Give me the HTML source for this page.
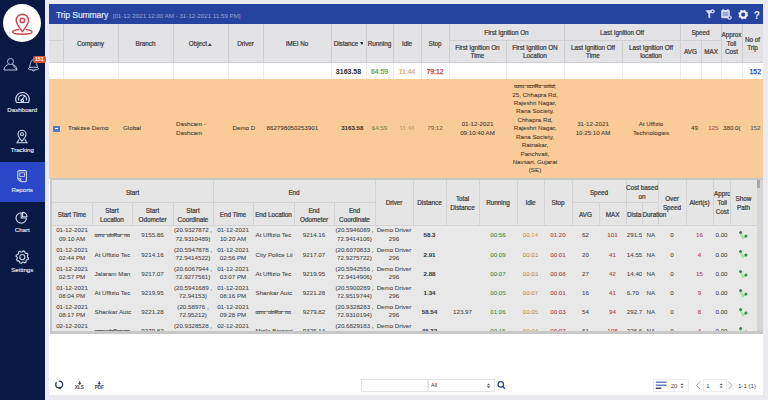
<!DOCTYPE html><html><head><meta charset="utf-8"><style>
html,body{margin:0;padding:0}
body{width:768px;height:400px;overflow:hidden;position:relative;background:#ecebf0;font-family:"Liberation Sans",sans-serif}
div{position:absolute;box-sizing:border-box}
.c{display:flex;align-items:center;justify-content:center;text-align:center;white-space:nowrap;overflow:hidden}
.hd{font-size:6.4px;font-weight:normal;color:#3e3e3e;-webkit-text-stroke:0.22px #3e3e3e;line-height:8.6px;letter-spacing:-0.05px;padding-top:1.7px}
.nh{font-size:6.4px;font-weight:normal;color:#3e3e3e;-webkit-text-stroke:0.22px #3e3e3e;line-height:9px;letter-spacing:-0.05px;padding-top:2.2px}
.d{font-size:6.2px;color:#4a4a4a;-webkit-text-stroke:0.08px #4a4a4a;line-height:8.2px}
.o{font-size:6.2px;color:#4a3a2c;-webkit-text-stroke:0.08px #4a3a2c;line-height:8.4px}
.sb{font-size:6.1px;color:#e2e6f3;-webkit-text-stroke:0.15px #e2e6f3}
.hi{font-size:5px;letter-spacing:0px;word-spacing:1.3px;font-weight:normal;-webkit-text-stroke:0.2px currentColor;color:#5a5a5a;background:linear-gradient(currentColor,currentColor) no-repeat 0 1.9px/100% 0.6px}
svg{position:absolute}
</style></head><body>
<div style="left:0px;top:0px;width:44.5px;height:400px;background:#0a1944"></div>
<div style="left:0px;top:162px;width:44.5px;height:40px;background:#2947c6"></div>
<div style="left:44.5px;top:0px;width:4.5px;height:400px;background:#e9ecf8"></div>
<div style="left:3px;top:4px;width:38px;height:38px;background:#fff;border-radius:50%"></div>
<svg style="left:0;top:0" width="44" height="80" viewBox="0 0 44 80">
<g fill="none" stroke="#cc4655" stroke-width="1.5">
<path d="M22.4 31.6 C18.6 26.6 16.2 23.2 16.2 20.4 A6.2 6.2 0 0 1 28.6 20.4 C28.6 23.2 26.2 26.6 22.4 31.6 Z"/>
<circle cx="22.4" cy="20.4" r="2.2"/>
<path d="M19 29.6 C15 30 12.6 31 12.6 32.1 C12.6 33.5 17 34.3 22.3 34.3 C27.6 34.3 32 33.5 32 32.1 C32 31 29.6 30 25.8 29.6"/>
</g>
<g fill="none" stroke="#b8bfdc" stroke-width="1">
<circle cx="10.5" cy="61.5" r="3"/>
<path d="M4 70 C4 66.5 6.5 65 8.5 64.5 M12.5 64.5 C14.5 65 17 66.5 17 70 Z"/>
<path d="M4 70 L17 70"/>
<path d="M29.3 68 C30.3 66 29.8 60.8 33.5 59.3 C37.2 60.8 36.7 66 37.7 68"/><ellipse cx="33.5" cy="68.6" rx="5.2" ry="1.4"/><path d="M32 70.3 Q33.5 71.6 35 70.3"/>
</g>
</svg>
<div style="left:33px;top:55.5px;width:12.5px;height:7.5px;background:#e0503a;border-radius:2px"></div>
<div class="c" style="left:33px;top:55.5px;width:12.5px;height:7.5px;font-size:5px;font-weight:bold;color:#fff"><span>151</span></div>
<div class="c sb" style="left:0px;top:105.5px;width:44.5px;height:8px;"><span>Dashboard</span></div>
<div class="c sb" style="left:0px;top:145.3px;width:44.5px;height:8px;"><span>Tracking</span></div>
<div class="c sb" style="left:0px;top:185.5px;width:44.5px;height:8px;"><span>Reports</span></div>
<div class="c sb" style="left:0px;top:225.3px;width:44.5px;height:8px;"><span>Chart</span></div>
<div class="c sb" style="left:0px;top:265.1px;width:44.5px;height:8px;"><span>Settings</span></div>
<svg style="left:0;top:80px" width="44" height="200" viewBox="0 80 44 200">
<g fill="none" stroke="#d0d6ec" stroke-width="1.1">
<path d="M16.5 102.5 A6.8 6.8 0 1 1 28.5 102.5 Z"/>
<path d="M18.8 100.5 A4 4 0 1 1 26.2 100.5"/>
<path d="M21 101 L25 95.5"/>
<circle cx="22.3" cy="100.5" r="1.3"/>
<path d="M22 141.2 C19.8 138.5 18 136.6 18 134.2 A4 4 0 0 1 26 134.2 C26 136.6 24.2 138.5 22 141.2 Z"/>
<circle cx="22" cy="134.2" r="1.5"/>
<path d="M19.3 139.2 L17 142.8 L27 142.8 L24.7 139.2"/>
<path d="M17.8 171.8 a1.2 1.2 0 0 1 1.2 -1.2 h6.2 a1.2 1.2 0 0 1 1.2 1.2 v8.8 a1.2 1.2 0 0 1 -1.2 1.2 h-4.4 l-3 -3 Z"/>
<path d="M17.8 178.8 h3 v3"/>
<rect x="19.8" y="172.8" width="4.6" height="3.6" stroke-width="0.8"/>
<path d="M21.2 212.8 A5.2 5.2 0 1 0 26.4 218 L21.2 218 Z"/>
<path d="M22.6 212.4 A4.4 4.4 0 0 1 27 216.8 L22.6 216.8 Z"/>
<path d="M22.30 251.90 L23.19 250.86 L24.71 251.28 L24.95 252.62 L25.98 253.42 L27.34 253.32 L28.12 254.69 L27.34 255.81 L27.50 257.10 L28.54 257.99 L28.12 259.51 L26.78 259.75 L25.98 260.78 L26.08 262.14 L24.71 262.92 L23.59 262.14 L22.30 262.30 L21.41 263.34 L19.89 262.92 L19.65 261.58 L18.62 260.78 L17.26 260.88 L16.48 259.51 L17.26 258.39 L17.10 257.10 L16.06 256.21 L16.48 254.69 L17.82 254.45 L18.62 253.42 L18.52 252.06 L19.89 251.28 L21.01 252.06 Z" stroke-linejoin="round"/>
<circle cx="22.3" cy="257.1" r="2.6"/>
</g></svg>
<div style="left:49px;top:5px;width:714px;height:390px;background:#fff"></div>
<div style="left:49px;top:4px;width:714px;height:20px;background:#2743a0"></div>
<div style="left:56px;top:5px;height:19px;display:flex;align-items:center;white-space:nowrap;padding-top:0.5px"><span style="font-size:8.6px;letter-spacing:-0.12px;color:#dfe5f7;-webkit-text-stroke:0.2px #dfe5f7">Trip Summary</span><span style="font-size:6.2px;color:#95a3d3;margin-left:4.5px;position:relative;top:0.8px">[01-12-2021 12:00 AM - 31-12-2021 11:59 PM]</span></div>
<svg style="left:700px;top:5px" width="64" height="19" viewBox="700 5 64 19">
<g fill="#d5ddf3">
<path d="M705.3 10.3 L712.5 10.3 L710.2 13.8 L710.2 18.6 L708.3 17.6 L708.3 13.8 Z"/>
<circle cx="712.6" cy="11.3" r="2.1"/>
<rect x="721.2" y="10" width="8.6" height="8.3" rx="1"/>
<rect x="722.5" y="8.9" width="1.2" height="2" /><rect x="727.3" y="8.9" width="1.2" height="2"/>
<circle cx="729.6" cy="17.6" r="2.2"/>
</g>
<circle cx="712.6" cy="11.3" r="0.9" fill="#2743a0"/>
<path d="M722.8 13 h5.5 M722.8 15 h5.5" stroke="#2743a0" stroke-width="0.7"/>
<circle cx="729.6" cy="17.6" r="1" fill="#2743a0"/>
<circle cx="743.2" cy="14.6" r="3.1" fill="none" stroke="#eef1fb" stroke-width="2"/>
<circle cx="743.2" cy="14.6" r="4.2" fill="none" stroke="#eef1fb" stroke-width="1.4" stroke-dasharray="1.65 1.65"/>
<text x="756.7" y="18.6" font-size="10" font-weight="bold" fill="#eef1fb" text-anchor="middle" font-family="Liberation Sans">?</text>
</svg>
<div style="left:49px;top:24px;width:714px;height:38.5px;background:#e3e3e5"></div>
<div style="left:63px;top:24px;width:1px;height:39px;background:#cfcfd2"></div>
<div style="left:63px;top:63px;width:1px;height:16px;background:#ececee"></div>
<div style="left:118px;top:24px;width:1px;height:39px;background:#cfcfd2"></div>
<div style="left:118px;top:63px;width:1px;height:16px;background:#ececee"></div>
<div style="left:173px;top:24px;width:1px;height:39px;background:#cfcfd2"></div>
<div style="left:173px;top:63px;width:1px;height:16px;background:#ececee"></div>
<div style="left:228px;top:24px;width:1px;height:39px;background:#cfcfd2"></div>
<div style="left:228px;top:63px;width:1px;height:16px;background:#ececee"></div>
<div style="left:263px;top:24px;width:1px;height:39px;background:#cfcfd2"></div>
<div style="left:263px;top:63px;width:1px;height:16px;background:#ececee"></div>
<div style="left:331px;top:24px;width:1px;height:39px;background:#cfcfd2"></div>
<div style="left:331px;top:63px;width:1px;height:16px;background:#ececee"></div>
<div style="left:366px;top:24px;width:1px;height:39px;background:#cfcfd2"></div>
<div style="left:366px;top:63px;width:1px;height:16px;background:#ececee"></div>
<div style="left:393px;top:24px;width:1px;height:39px;background:#cfcfd2"></div>
<div style="left:393px;top:63px;width:1px;height:16px;background:#ececee"></div>
<div style="left:421px;top:24px;width:1px;height:39px;background:#cfcfd2"></div>
<div style="left:421px;top:63px;width:1px;height:16px;background:#ececee"></div>
<div style="left:449px;top:24px;width:1px;height:39px;background:#cfcfd2"></div>
<div style="left:449px;top:63px;width:1px;height:16px;background:#ececee"></div>
<div style="left:506px;top:40px;width:1px;height:23px;background:#cfcfd2"></div>
<div style="left:506px;top:63px;width:1px;height:16px;background:#ececee"></div>
<div style="left:564px;top:24px;width:1px;height:39px;background:#cfcfd2"></div>
<div style="left:564px;top:63px;width:1px;height:16px;background:#ececee"></div>
<div style="left:622px;top:40px;width:1px;height:23px;background:#cfcfd2"></div>
<div style="left:622px;top:63px;width:1px;height:16px;background:#ececee"></div>
<div style="left:680px;top:24px;width:1px;height:39px;background:#cfcfd2"></div>
<div style="left:680px;top:63px;width:1px;height:16px;background:#ececee"></div>
<div style="left:701px;top:40px;width:1px;height:23px;background:#cfcfd2"></div>
<div style="left:701px;top:63px;width:1px;height:16px;background:#ececee"></div>
<div style="left:721px;top:24px;width:1px;height:39px;background:#cfcfd2"></div>
<div style="left:721px;top:63px;width:1px;height:16px;background:#ececee"></div>
<div style="left:742px;top:24px;width:1px;height:39px;background:#cfcfd2"></div>
<div style="left:742px;top:63px;width:1px;height:16px;background:#ececee"></div>
<div style="left:49px;top:40px;width:14px;height:1px;background:#cfcfd2"></div>
<div style="left:449px;top:40px;width:272px;height:1px;background:#cfcfd2"></div>
<div style="left:49px;top:62px;width:714px;height:1px;background:#cfcfd2"></div>
<div class="c hd" style="left:63px;top:24px;width:55px;height:38.5px;"><span>Company</span></div>
<div class="c hd" style="left:118px;top:24px;width:55px;height:38.5px;"><span>Branch</span></div>
<div class="c hd" style="left:173px;top:24px;width:55px;height:38.5px;"><span>Object<svg width='3.8' height='3' viewBox='0 0 3.8 3' style='position:relative;margin-left:1.4px;vertical-align:0px'><path d='M0 3 L1.9 0 L3.8 3 Z' fill='#444'/></svg></span></div>
<div class="c hd" style="left:228px;top:24px;width:35px;height:38.5px;"><span>Driver</span></div>
<div class="c hd" style="left:263px;top:24px;width:68px;height:38.5px;"><span>IMEI No</span></div>
<div class="c hd" style="left:331px;top:24px;width:35px;height:38.5px;"><span>Distance<svg width='3.8' height='3' viewBox='0 0 3.8 3' style='position:relative;margin-left:1.4px;vertical-align:0.8px'><path d='M0 0 L1.9 3 L3.8 0 Z' fill='#333'/></svg></span></div>
<div class="c hd" style="left:366px;top:24px;width:27px;height:38.5px;"><span>Running</span></div>
<div class="c hd" style="left:393px;top:24px;width:28px;height:38.5px;"><span>Idle</span></div>
<div class="c hd" style="left:421px;top:24px;width:28px;height:38.5px;"><span>Stop</span></div>
<div class="c hd" style="left:449px;top:40px;width:57px;height:22.5px;"><span>First Ignition On<br>Time</span></div>
<div class="c hd" style="left:506px;top:40px;width:58px;height:22.5px;"><span>First Ignition ON<br>Location</span></div>
<div class="c hd" style="left:564px;top:40px;width:58px;height:22.5px;"><span>Last Ignition Off<br>Time</span></div>
<div class="c hd" style="left:622px;top:40px;width:58px;height:22.5px;"><span>Last Ignition Off<br>location</span></div>
<div class="c hd" style="left:680px;top:40px;width:21px;height:22.5px;"><span>AVG</span></div>
<div class="c hd" style="left:701px;top:40px;width:20px;height:22.5px;"><span>MAX</span></div>
<div class="c hd" style="left:721px;top:24px;width:21px;height:38.5px;"><span>Approx<br>Toll<br>Cost</span></div>
<div class="c hd" style="left:742px;top:24px;width:21px;height:38.5px;"><span>No of<br>Trip</span></div>
<div class="c hd" style="left:449px;top:24px;width:115px;height:16px;"><span>First Ignition On</span></div>
<div class="c hd" style="left:564px;top:24px;width:116px;height:16px;"><span>Last Ignition Off</span></div>
<div class="c hd" style="left:680px;top:24px;width:41px;height:16px;"><span>Speed</span></div>
<div class="c d" style="left:331px;top:63px;width:35px;height:16px;font-weight:bold;color:#333;font-size:7px;padding-top:3px"><span>3163.58</span></div>
<div class="c d" style="left:366px;top:63px;width:27px;height:16px;color:#5a9a48;font-size:6.9px;-webkit-text-stroke:0.2px #5a9a48;padding-top:3px"><span>64:59</span></div>
<div class="c d" style="left:393px;top:63px;width:28px;height:16px;color:#d4a468;font-size:6.9px;-webkit-text-stroke:0.15px #d4a468;padding-top:3px"><span>11:44</span></div>
<div class="c d" style="left:421px;top:63px;width:28px;height:16px;color:#a8404a;font-size:6.9px;-webkit-text-stroke:0.25px #a8404a;padding-top:3px"><span>79:12</span></div>
<div class="c d" style="left:742px;top:63px;width:21px;height:16px;color:#2a49a6;font-size:6.9px;-webkit-text-stroke:0.25px #2a49a6;justify-content:flex-end;padding-right:2px;padding-top:3px"><span>152</span></div>
<div style="left:49px;top:79px;width:714px;height:99.5px;background:#f8cb99"></div>
<div style="left:53px;top:125.5px;width:6.5px;height:6.5px;background:#4a7bd0;border-radius:1px"></div>
<div style="left:54.5px;top:128.3px;width:3.5px;height:1px;background:#fff"></div>
<div class="c o" style="left:63px;top:79px;width:55px;height:99px;justify-content:flex-start;padding-left:5px"><span>Trakzee Demo</span></div>
<div class="c o" style="left:118px;top:79px;width:55px;height:99px;justify-content:flex-start;padding-left:5px"><span>Global</span></div>
<div class="c o" style="left:173px;top:79px;width:55px;height:99px;justify-content:flex-start;padding-left:3px;text-align:left"><span>Dashcam -<br>Dashcam</span></div>
<div class="c o" style="left:228px;top:79px;width:35px;height:99px;justify-content:flex-start;padding-left:4.5px"><span>Demo D</span></div>
<div class="c o" style="left:263px;top:79px;width:68px;height:99px;justify-content:flex-start;padding-left:3.5px"><span>862798050253901</span></div>
<div class="c o" style="left:331px;top:79px;width:35px;height:99px;font-weight:bold;color:#4a3626;justify-content:flex-end;padding-right:2.5px"><span>3163.58</span></div>
<div class="c o" style="left:366px;top:79px;width:27px;height:99px;color:#7f9a4a"><span>64:59</span></div>
<div class="c o" style="left:393px;top:79px;width:28px;height:99px;color:#dcae6a"><span>11:44</span></div>
<div class="c o" style="left:421px;top:79px;width:28px;height:99px;color:#b05a48"><span>79:12</span></div>
<div class="c o" style="left:449px;top:79px;width:57px;height:99px;"><span>01-12-2021<br>09:10:40 AM</span></div>
<div class="c o" style="left:506px;top:79px;width:58px;height:99px;overflow:visible"><span><span class='hi' style='color:#6a4a2c'>uzru ucnRu unlul,</span><br>25, Chhapra Rd,<br>Rajeshri Nagar,<br>Rana Society,<br>Chhapra Rd,<br>Rajeshri Nagar,<br>Rana Society,<br>Ratnakar,<br>Panchvati,<br>Navsari, Gujarat<br>(SE)</span></div>
<div class="c o" style="left:564px;top:79px;width:58px;height:99px;"><span>31-12-2021<br>10:25:10 AM</span></div>
<div class="c o" style="left:622px;top:79px;width:58px;height:99px;"><span>At Uffizio<br>Technologies</span></div>
<div class="c o" style="left:680px;top:79px;width:21px;height:99px;justify-content:flex-end;padding-right:3px"><span>49</span></div>
<div class="c o" style="left:701px;top:79px;width:20px;height:99px;color:#c8503a;justify-content:flex-end;padding-right:2.5px"><span>125</span></div>
<div class="c o" style="left:721px;top:79px;width:21px;height:99px;justify-content:flex-start;padding-left:2px"><span>380.0(</span></div>
<div class="c o" style="left:742px;top:79px;width:21px;height:99px;color:#6d6070;justify-content:flex-end;padding-right:2.5px"><span>152</span></div>
<div style="left:50px;top:178px;width:713px;height:155.6px;background:#c8c8c8"></div>
<div style="left:52px;top:180px;width:705px;height:150.8px;background:#e8e8e8"></div>
<div style="left:52px;top:180px;width:705px;height:45px;background:#e5e5e6"></div>
<div style="left:52px;top:202px;width:323px;height:1px;background:#d3d3d5"></div>
<div style="left:572px;top:202px;width:86px;height:1px;background:#d3d3d5"></div>
<div style="left:92px;top:202px;width:1px;height:23px;background:#d3d3d5"></div>
<div style="left:132px;top:202px;width:1px;height:23px;background:#d3d3d5"></div>
<div style="left:173px;top:202px;width:1px;height:23px;background:#d3d3d5"></div>
<div style="left:213px;top:180px;width:1px;height:45px;background:#d3d3d5"></div>
<div style="left:253px;top:202px;width:1px;height:23px;background:#d3d3d5"></div>
<div style="left:294px;top:202px;width:1px;height:23px;background:#d3d3d5"></div>
<div style="left:334px;top:202px;width:1px;height:23px;background:#d3d3d5"></div>
<div style="left:375px;top:180px;width:1px;height:45px;background:#d3d3d5"></div>
<div style="left:413px;top:180px;width:1px;height:45px;background:#d3d3d5"></div>
<div style="left:446px;top:180px;width:1px;height:45px;background:#d3d3d5"></div>
<div style="left:479px;top:180px;width:1px;height:45px;background:#d3d3d5"></div>
<div style="left:517px;top:180px;width:1px;height:45px;background:#d3d3d5"></div>
<div style="left:544px;top:180px;width:1px;height:45px;background:#d3d3d5"></div>
<div style="left:572px;top:180px;width:1px;height:45px;background:#d3d3d5"></div>
<div style="left:599px;top:202px;width:1px;height:23px;background:#d3d3d5"></div>
<div style="left:626px;top:180px;width:1px;height:45px;background:#d3d3d5"></div>
<div style="left:642px;top:202px;width:1px;height:23px;background:#d3d3d5"></div>
<div style="left:658px;top:180px;width:1px;height:45px;background:#d3d3d5"></div>
<div style="left:686px;top:180px;width:1px;height:45px;background:#d3d3d5"></div>
<div style="left:713px;top:180px;width:1px;height:45px;background:#d3d3d5"></div>
<div style="left:730px;top:180px;width:1px;height:45px;background:#d3d3d5"></div>
<div style="left:52px;top:224.5px;width:705px;height:1px;background:#d3d3d5"></div>
<div style="left:757px;top:180px;width:6px;height:150px;background:#d6d6d6"></div>
<div style="left:757px;top:180px;width:3px;height:8px;background:#a8a8a8"></div>
<div class="c nh" style="left:52px;top:202px;width:40px;height:23px;"><span>Start Time</span></div>
<div class="c nh" style="left:92px;top:202px;width:40px;height:23px;"><span>Start<br>Location</span></div>
<div class="c nh" style="left:132px;top:202px;width:41px;height:23px;"><span>Start<br>Odometer</span></div>
<div class="c nh" style="left:173px;top:202px;width:40px;height:23px;"><span>Start<br>Coordinate</span></div>
<div class="c nh" style="left:213px;top:202px;width:40px;height:23px;"><span>End Time</span></div>
<div class="c nh" style="left:253px;top:202px;width:41px;height:23px;"><span>End Location</span></div>
<div class="c nh" style="left:294px;top:202px;width:40px;height:23px;"><span>End<br>Odometer</span></div>
<div class="c nh" style="left:334px;top:202px;width:41px;height:23px;"><span>End<br>Coordinate</span></div>
<div class="c nh" style="left:572px;top:202px;width:27px;height:23px;"><span>AVG</span></div>
<div class="c nh" style="left:599px;top:202px;width:27px;height:23px;"><span>MAX</span></div>
<div class="c nh" style="left:626px;top:202px;width:16px;height:23px;justify-content:flex-start;padding-left:1px"><span>Dista</span></div>
<div class="c nh" style="left:642px;top:202px;width:16px;height:23px;overflow:visible;justify-content:flex-start;padding-left:0.5px"><span>Duration</span></div>
<div class="c nh" style="left:375px;top:180px;width:38px;height:45px;padding-top:0.4px"><span>Driver</span></div>
<div class="c nh" style="left:413px;top:180px;width:33px;height:45px;padding-top:0.4px"><span>Distance</span></div>
<div class="c nh" style="left:446px;top:180px;width:33px;height:45px;padding-top:0.4px"><span>Total<br>Distance</span></div>
<div class="c nh" style="left:479px;top:180px;width:38px;height:45px;padding-top:0.4px"><span>Running</span></div>
<div class="c nh" style="left:517px;top:180px;width:27px;height:45px;padding-top:0.4px"><span>Idle</span></div>
<div class="c nh" style="left:544px;top:180px;width:28px;height:45px;padding-top:0.4px"><span>Stop</span></div>
<div class="c nh" style="left:658px;top:180px;width:28px;height:45px;padding-top:0.4px"><span>Over<br>Speed</span></div>
<div class="c nh" style="left:686px;top:180px;width:27px;height:45px;padding-top:0.4px"><span>Alert(s)</span></div>
<div class="c nh" style="left:713px;top:180px;width:17px;height:45px;justify-content:flex-start;padding-left:1px;padding-top:0.4px"><span>Apprc<br>Toll<br>Cost</span></div>
<div class="c nh" style="left:730px;top:180px;width:27px;height:45px;padding-top:0.4px"><span>Show<br>Path</span></div>
<div class="c nh" style="left:52px;top:180px;width:161px;height:22px;padding-top:3px"><span>Start</span></div>
<div class="c nh" style="left:213px;top:180px;width:162px;height:22px;padding-top:3px"><span>End</span></div>
<div class="c nh" style="left:572px;top:180px;width:54px;height:22px;padding-top:3px"><span>Speed</span></div>
<div class="c nh" style="left:626px;top:180px;width:32px;height:22px;overflow:visible"><span>Cost based<br>on</span></div>
<div style="left:52px;top:225px;width:705px;height:105.8px;overflow:hidden">
<div class="c d" style="left:0px;top:0.0px;width:40px;height:19.15px;"><span>01-12-2021<br>09:10 AM</span></div>
<div class="c d" style="left:40px;top:1.0px;width:40px;height:19.15px;justify-content:flex-start;padding-left:2.5px"><span><span class='hi'>uzru ulnRur nu</span></span></div>
<div class="c d" style="left:80px;top:1.0px;width:41px;height:19.15px;"><span>9155.86</span></div>
<div class="c d" style="left:121px;top:0.0px;width:40px;height:19.15px;"><span>(20.9327872 ,<br>72.9310489)</span></div>
<div class="c d" style="left:161px;top:0.0px;width:40px;height:19.15px;"><span>01-12-2021<br>10:20 AM</span></div>
<div class="c d" style="left:201px;top:1.0px;width:41px;height:19.15px;justify-content:flex-start;padding-left:2.5px"><span>At Uffizio Tec</span></div>
<div class="c d" style="left:242px;top:1.0px;width:40px;height:19.15px;"><span>9214.16</span></div>
<div class="c d" style="left:282px;top:0.0px;width:41px;height:19.15px;"><span>(20.5946089 ,<br>72.9414106)</span></div>
<div class="c d" style="left:323px;top:0.0px;width:38px;height:19.15px;"><span>Demo Driver<br>296</span></div>
<div class="c d" style="left:361px;top:1.0px;width:33px;height:19.15px;font-weight:bold;color:#3a3a3a"><span>58.3</span></div>
<div class="c d" style="left:394px;top:1.0px;width:33px;height:19.15px;"><span></span></div>
<div class="c d" style="left:427px;top:1.0px;width:38px;height:19.15px;color:#4a9a4a"><span>00:56</span></div>
<div class="c d" style="left:465px;top:1.0px;width:27px;height:19.15px;color:#e6a860"><span>00:14</span></div>
<div class="c d" style="left:492px;top:1.0px;width:28px;height:19.15px;color:#c43c4a"><span>01:20</span></div>
<div class="c d" style="left:520px;top:1.0px;width:27px;height:19.15px;"><span>62</span></div>
<div class="c d" style="left:547px;top:1.0px;width:27px;height:19.15px;color:#c43c4a"><span>101</span></div>
<div class="c d" style="left:574px;top:1.0px;width:16px;height:19.15px;justify-content:flex-start;padding-left:0.8px"><span>291.5(</span></div>
<div class="c d" style="left:590px;top:1.0px;width:16px;height:19.15px;justify-content:flex-start;padding-left:4.5px"><span>NA</span></div>
<div class="c d" style="left:606px;top:1.0px;width:28px;height:19.15px;"><span>0</span></div>
<div class="c d" style="left:634px;top:1.0px;width:27px;height:19.15px;color:#c43c4a"><span>16</span></div>
<div class="c d" style="left:661px;top:1.0px;width:17px;height:19.15px;"><span>0.00</span></div>
<svg style="left:686px;top:5.3px" width="10" height="10" viewBox="0 0 10 10"><path d="M2.5 2.7 L5 8.2 L8 5.7" stroke="#a2e4a2" stroke-width="2.2" fill="none" stroke-linejoin="round"/><circle cx="2.6" cy="2.6" r="1.5" fill="#3f8550"/><circle cx="8" cy="6" r="1.5" fill="#3f8550"/></svg>
<div class="c d" style="left:0px;top:19.15px;width:40px;height:19.15px;"><span>01-12-2021<br>02:44 PM</span></div>
<div class="c d" style="left:40px;top:20.15px;width:40px;height:19.15px;justify-content:flex-start;padding-left:2.5px"><span>At Uffizio Tec</span></div>
<div class="c d" style="left:80px;top:20.15px;width:41px;height:19.15px;"><span>9214.16</span></div>
<div class="c d" style="left:121px;top:19.15px;width:40px;height:19.15px;"><span>(20.5947878 ,<br>72.9414522)</span></div>
<div class="c d" style="left:161px;top:19.15px;width:40px;height:19.15px;"><span>01-12-2021<br>02:56 PM</span></div>
<div class="c d" style="left:201px;top:20.15px;width:41px;height:19.15px;justify-content:flex-start;padding-left:2.5px"><span>City Police Lii</span></div>
<div class="c d" style="left:242px;top:20.15px;width:40px;height:19.15px;"><span>9217.07</span></div>
<div class="c d" style="left:282px;top:19.15px;width:41px;height:19.15px;"><span>(20.6070833 ,<br>72.9275722)</span></div>
<div class="c d" style="left:323px;top:19.15px;width:38px;height:19.15px;"><span>Demo Driver<br>296</span></div>
<div class="c d" style="left:361px;top:20.15px;width:33px;height:19.15px;font-weight:bold;color:#3a3a3a"><span>2.91</span></div>
<div class="c d" style="left:394px;top:20.15px;width:33px;height:19.15px;"><span></span></div>
<div class="c d" style="left:427px;top:20.15px;width:38px;height:19.15px;color:#4a9a4a"><span>00:09</span></div>
<div class="c d" style="left:465px;top:20.15px;width:27px;height:19.15px;color:#e6a860"><span>00:03</span></div>
<div class="c d" style="left:492px;top:20.15px;width:28px;height:19.15px;color:#c43c4a"><span>00:01</span></div>
<div class="c d" style="left:520px;top:20.15px;width:27px;height:19.15px;"><span>20</span></div>
<div class="c d" style="left:547px;top:20.15px;width:27px;height:19.15px;color:#c43c4a"><span>41</span></div>
<div class="c d" style="left:574px;top:20.15px;width:16px;height:19.15px;justify-content:flex-start;padding-left:0.8px"><span>14.55</span></div>
<div class="c d" style="left:590px;top:20.15px;width:16px;height:19.15px;justify-content:flex-start;padding-left:4.5px"><span>NA</span></div>
<div class="c d" style="left:606px;top:20.15px;width:28px;height:19.15px;"><span>0</span></div>
<div class="c d" style="left:634px;top:20.15px;width:27px;height:19.15px;color:#c43c4a"><span>4</span></div>
<div class="c d" style="left:661px;top:20.15px;width:17px;height:19.15px;"><span>0.00</span></div>
<svg style="left:686px;top:24.45px" width="10" height="10" viewBox="0 0 10 10"><path d="M2.5 2.7 L5 8.2 L8 5.7" stroke="#a2e4a2" stroke-width="2.2" fill="none" stroke-linejoin="round"/><circle cx="2.6" cy="2.6" r="1.5" fill="#3f8550"/><circle cx="8" cy="6" r="1.5" fill="#3f8550"/></svg>
<div class="c d" style="left:0px;top:38.3px;width:40px;height:19.15px;"><span>01-12-2021<br>02:57 PM</span></div>
<div class="c d" style="left:40px;top:39.3px;width:40px;height:19.15px;justify-content:flex-start;padding-left:2.5px"><span>Jalaram Man</span></div>
<div class="c d" style="left:80px;top:39.3px;width:41px;height:19.15px;"><span>9217.07</span></div>
<div class="c d" style="left:121px;top:38.3px;width:40px;height:19.15px;"><span>(20.6067944 ,<br>72.9277561)</span></div>
<div class="c d" style="left:161px;top:38.3px;width:40px;height:19.15px;"><span>01-12-2021<br>03:07 PM</span></div>
<div class="c d" style="left:201px;top:39.3px;width:41px;height:19.15px;justify-content:flex-start;padding-left:2.5px"><span>At Uffizio Tec</span></div>
<div class="c d" style="left:242px;top:39.3px;width:40px;height:19.15px;"><span>9219.95</span></div>
<div class="c d" style="left:282px;top:38.3px;width:41px;height:19.15px;"><span>(20.5942556 ,<br>72.9414906)</span></div>
<div class="c d" style="left:323px;top:38.3px;width:38px;height:19.15px;"><span>Demo Driver<br>296</span></div>
<div class="c d" style="left:361px;top:39.3px;width:33px;height:19.15px;font-weight:bold;color:#3a3a3a"><span>2.88</span></div>
<div class="c d" style="left:394px;top:39.3px;width:33px;height:19.15px;"><span></span></div>
<div class="c d" style="left:427px;top:39.3px;width:38px;height:19.15px;color:#4a9a4a"><span>00:07</span></div>
<div class="c d" style="left:465px;top:39.3px;width:27px;height:19.15px;color:#e6a860"><span>00:03</span></div>
<div class="c d" style="left:492px;top:39.3px;width:28px;height:19.15px;color:#c43c4a"><span>00:08</span></div>
<div class="c d" style="left:520px;top:39.3px;width:27px;height:19.15px;"><span>27</span></div>
<div class="c d" style="left:547px;top:39.3px;width:27px;height:19.15px;color:#c43c4a"><span>42</span></div>
<div class="c d" style="left:574px;top:39.3px;width:16px;height:19.15px;justify-content:flex-start;padding-left:0.8px"><span>14.40</span></div>
<div class="c d" style="left:590px;top:39.3px;width:16px;height:19.15px;justify-content:flex-start;padding-left:4.5px"><span>NA</span></div>
<div class="c d" style="left:606px;top:39.3px;width:28px;height:19.15px;"><span>0</span></div>
<div class="c d" style="left:634px;top:39.3px;width:27px;height:19.15px;color:#c43c4a"><span>15</span></div>
<div class="c d" style="left:661px;top:39.3px;width:17px;height:19.15px;"><span>0.00</span></div>
<svg style="left:686px;top:43.6px" width="10" height="10" viewBox="0 0 10 10"><path d="M2.5 2.7 L5 8.2 L8 5.7" stroke="#a2e4a2" stroke-width="2.2" fill="none" stroke-linejoin="round"/><circle cx="2.6" cy="2.6" r="1.5" fill="#3f8550"/><circle cx="8" cy="6" r="1.5" fill="#3f8550"/></svg>
<div class="c d" style="left:0px;top:57.45px;width:40px;height:19.15px;"><span>01-12-2021<br>08:04 PM</span></div>
<div class="c d" style="left:40px;top:58.45px;width:40px;height:19.15px;justify-content:flex-start;padding-left:2.5px"><span>At Uffizio Tec</span></div>
<div class="c d" style="left:80px;top:58.45px;width:41px;height:19.15px;"><span>9219.95</span></div>
<div class="c d" style="left:121px;top:57.45px;width:40px;height:19.15px;"><span>(20.5941689 ,<br>72.94153)</span></div>
<div class="c d" style="left:161px;top:57.45px;width:40px;height:19.15px;"><span>01-12-2021<br>08:16 PM</span></div>
<div class="c d" style="left:201px;top:58.45px;width:41px;height:19.15px;justify-content:flex-start;padding-left:2.5px"><span>Shankar Autc</span></div>
<div class="c d" style="left:242px;top:58.45px;width:40px;height:19.15px;"><span>9221.28</span></div>
<div class="c d" style="left:282px;top:57.45px;width:41px;height:19.15px;"><span>(20.5900289 ,<br>72.9519744)</span></div>
<div class="c d" style="left:323px;top:57.45px;width:38px;height:19.15px;"><span>Demo Driver<br>296</span></div>
<div class="c d" style="left:361px;top:58.45px;width:33px;height:19.15px;font-weight:bold;color:#3a3a3a"><span>1.34</span></div>
<div class="c d" style="left:394px;top:58.45px;width:33px;height:19.15px;"><span></span></div>
<div class="c d" style="left:427px;top:58.45px;width:38px;height:19.15px;color:#4a9a4a"><span>00:05</span></div>
<div class="c d" style="left:465px;top:58.45px;width:27px;height:19.15px;color:#e6a860"><span>00:07</span></div>
<div class="c d" style="left:492px;top:58.45px;width:28px;height:19.15px;color:#c43c4a"><span>00:01</span></div>
<div class="c d" style="left:520px;top:58.45px;width:27px;height:19.15px;"><span>16</span></div>
<div class="c d" style="left:547px;top:58.45px;width:27px;height:19.15px;color:#c43c4a"><span>41</span></div>
<div class="c d" style="left:574px;top:58.45px;width:16px;height:19.15px;justify-content:flex-start;padding-left:0.8px"><span>6.70</span></div>
<div class="c d" style="left:590px;top:58.45px;width:16px;height:19.15px;justify-content:flex-start;padding-left:4.5px"><span>NA</span></div>
<div class="c d" style="left:606px;top:58.45px;width:28px;height:19.15px;"><span>0</span></div>
<div class="c d" style="left:634px;top:58.45px;width:27px;height:19.15px;color:#c43c4a"><span>9</span></div>
<div class="c d" style="left:661px;top:58.45px;width:17px;height:19.15px;"><span>0.00</span></div>
<svg style="left:686px;top:62.75px" width="10" height="10" viewBox="0 0 10 10"><path d="M2.5 2.7 L5 8.2 L8 5.7" stroke="#a2e4a2" stroke-width="2.2" fill="none" stroke-linejoin="round"/><circle cx="2.6" cy="2.6" r="1.5" fill="#3f8550"/><circle cx="8" cy="6" r="1.5" fill="#3f8550"/></svg>
<div class="c d" style="left:0px;top:76.6px;width:40px;height:19.15px;"><span>01-12-2021<br>08:17 PM</span></div>
<div class="c d" style="left:40px;top:77.6px;width:40px;height:19.15px;justify-content:flex-start;padding-left:2.5px"><span>Shankar Autc</span></div>
<div class="c d" style="left:80px;top:77.6px;width:41px;height:19.15px;"><span>9221.28</span></div>
<div class="c d" style="left:121px;top:76.6px;width:40px;height:19.15px;"><span>(20.58976 ,<br>72.95212)</span></div>
<div class="c d" style="left:161px;top:76.6px;width:40px;height:19.15px;"><span>01-12-2021<br>09:28 PM</span></div>
<div class="c d" style="left:201px;top:77.6px;width:41px;height:19.15px;justify-content:flex-start;padding-left:2.5px"><span><span class='hi'>uzru ulnRur nu</span></span></div>
<div class="c d" style="left:242px;top:77.6px;width:40px;height:19.15px;"><span>9279.82</span></div>
<div class="c d" style="left:282px;top:76.6px;width:41px;height:19.15px;"><span>(20.9328283 ,<br>72.9310194)</span></div>
<div class="c d" style="left:323px;top:76.6px;width:38px;height:19.15px;"><span>Demo Driver<br>296</span></div>
<div class="c d" style="left:361px;top:77.6px;width:33px;height:19.15px;font-weight:bold;color:#3a3a3a"><span>58.54</span></div>
<div class="c d" style="left:394px;top:77.6px;width:33px;height:19.15px;"><span>123.97</span></div>
<div class="c d" style="left:427px;top:77.6px;width:38px;height:19.15px;color:#4a9a4a"><span>01:06</span></div>
<div class="c d" style="left:465px;top:77.6px;width:27px;height:19.15px;color:#e6a860"><span>00:05</span></div>
<div class="c d" style="left:492px;top:77.6px;width:28px;height:19.15px;color:#c43c4a"><span>00:03</span></div>
<div class="c d" style="left:520px;top:77.6px;width:27px;height:19.15px;"><span>54</span></div>
<div class="c d" style="left:547px;top:77.6px;width:27px;height:19.15px;color:#c43c4a"><span>94</span></div>
<div class="c d" style="left:574px;top:77.6px;width:16px;height:19.15px;justify-content:flex-start;padding-left:0.8px"><span>292.7(</span></div>
<div class="c d" style="left:590px;top:77.6px;width:16px;height:19.15px;justify-content:flex-start;padding-left:4.5px"><span>NA</span></div>
<div class="c d" style="left:606px;top:77.6px;width:28px;height:19.15px;"><span>0</span></div>
<div class="c d" style="left:634px;top:77.6px;width:27px;height:19.15px;color:#c43c4a"><span>8</span></div>
<div class="c d" style="left:661px;top:77.6px;width:17px;height:19.15px;"><span>0.00</span></div>
<svg style="left:686px;top:81.9px" width="10" height="10" viewBox="0 0 10 10"><path d="M2.5 2.7 L5 8.2 L8 5.7" stroke="#a2e4a2" stroke-width="2.2" fill="none" stroke-linejoin="round"/><circle cx="2.6" cy="2.6" r="1.5" fill="#3f8550"/><circle cx="8" cy="6" r="1.5" fill="#3f8550"/></svg>
<div class="c d" style="left:0px;top:95.75px;width:40px;height:19.15px;"><span>02-12-2021<br>08:17 PM</span></div>
<div class="c d" style="left:40px;top:96.75px;width:40px;height:19.15px;justify-content:flex-start;padding-left:2.5px"><span><span class='hi'>uzru ulnRur nu</span></span></div>
<div class="c d" style="left:80px;top:96.75px;width:41px;height:19.15px;"><span>9279.82</span></div>
<div class="c d" style="left:121px;top:95.75px;width:40px;height:19.15px;"><span>(20.9328528 ,<br>72.9310194)</span></div>
<div class="c d" style="left:161px;top:95.75px;width:40px;height:19.15px;"><span>02-12-2021<br>09:28 PM</span></div>
<div class="c d" style="left:201px;top:96.75px;width:41px;height:19.15px;justify-content:flex-start;padding-left:2.5px"><span>Motla Bingoni</span></div>
<div class="c d" style="left:242px;top:96.75px;width:40px;height:19.15px;"><span>9325.14</span></div>
<div class="c d" style="left:282px;top:95.75px;width:41px;height:19.15px;"><span>(20.6829183 ,<br>72.9310194)</span></div>
<div class="c d" style="left:323px;top:95.75px;width:38px;height:19.15px;"><span>Demo Driver<br>296</span></div>
<div class="c d" style="left:361px;top:96.75px;width:33px;height:19.15px;font-weight:bold;color:#3a3a3a"><span>45.32</span></div>
<div class="c d" style="left:394px;top:96.75px;width:33px;height:19.15px;"><span></span></div>
<div class="c d" style="left:427px;top:96.75px;width:38px;height:19.15px;color:#4a9a4a"><span>00:15</span></div>
<div class="c d" style="left:465px;top:96.75px;width:27px;height:19.15px;color:#e6a860"><span>00:04</span></div>
<div class="c d" style="left:492px;top:96.75px;width:28px;height:19.15px;color:#c43c4a"><span>00:07</span></div>
<div class="c d" style="left:520px;top:96.75px;width:27px;height:19.15px;"><span>61</span></div>
<div class="c d" style="left:547px;top:96.75px;width:27px;height:19.15px;color:#c43c4a"><span>108</span></div>
<div class="c d" style="left:574px;top:96.75px;width:16px;height:19.15px;justify-content:flex-start;padding-left:0.8px"><span>226.6(</span></div>
<div class="c d" style="left:590px;top:96.75px;width:16px;height:19.15px;justify-content:flex-start;padding-left:4.5px"><span>NA</span></div>
<div class="c d" style="left:606px;top:96.75px;width:28px;height:19.15px;"><span>0</span></div>
<div class="c d" style="left:634px;top:96.75px;width:27px;height:19.15px;color:#c43c4a"><span>4</span></div>
<div class="c d" style="left:661px;top:96.75px;width:17px;height:19.15px;"><span>0.00</span></div>
<svg style="left:686px;top:101.05px" width="10" height="10" viewBox="0 0 10 10"><path d="M2.5 2.7 L5 8.2 L8 5.7" stroke="#a2e4a2" stroke-width="2.2" fill="none" stroke-linejoin="round"/><circle cx="2.6" cy="2.6" r="1.5" fill="#3f8550"/><circle cx="8" cy="6" r="1.5" fill="#3f8550"/></svg>
</div>
<svg style="left:50px;top:375px" width="60" height="18" viewBox="50 375 60 18">
<path d="M56.6 382.2 A3.5 3.5 0 1 0 58.6 381.1" fill="none" stroke="#2a3552" stroke-width="1.3"/>
<path d="M57.6 387.4 L60.6 386.4 L60.2 389.6 Z" fill="#2a3552"/>
<path d="M79.7 381.2 v2.4" stroke="#3a4462" stroke-width="1.2"/><path d="M77.9 382.9 L81.5 382.9 L79.7 384.9 Z" fill="#3a4462"/>
<path d="M99.2 381.2 v2.4" stroke="#3a4462" stroke-width="1.2"/><path d="M97.4 382.9 L101 382.9 L99.2 384.9 Z" fill="#3a4462"/>
<text x="79.3" y="389.4" font-size="4.9" font-weight="bold" fill="#3a4462" text-anchor="middle" font-family="Liberation Sans" letter-spacing="-0.2">XLS</text>
<text x="99.3" y="389.4" font-size="4.9" font-weight="bold" fill="#3a4462" text-anchor="middle" font-family="Liberation Sans" letter-spacing="-0.2">PDF</text>
</svg>
<div style="left:361px;top:379px;width:67px;height:12.5px;background:#fff;border:1px solid #e4e4e4"></div>
<div style="left:427.5px;top:379px;width:67px;height:12.5px;background:#fff;border:1px solid #e4e4e4"></div>
<div class="c" style="left:431px;top:379px;width:20px;height:12.5px;font-size:5.6px;color:#333;justify-content:flex-start"><span>All</span></div>
<svg style="left:480px;top:379px" width="30" height="13" viewBox="480 379 30 13">
<path d="M488.5 383.6 L490.2 385.3 L486.8 385.3 Z M488.5 388.0 L490.2 386.3 L486.8 386.3 Z" fill="#555"/>
<circle cx="500.8" cy="384.4" r="2.7" fill="none" stroke="#2b4a7a" stroke-width="1.2"/>
<path d="M502.7 386.4 L505 388.8" stroke="#2b4a7a" stroke-width="1.5"/>
</svg>
<div style="left:652.5px;top:379px;width:36px;height:13px;background:#fff;border:1px solid #ececec"></div>
<div style="left:702.5px;top:379px;width:24.5px;height:13px;background:#fff;border:1px solid #ececec"></div>
<svg style="left:650px;top:376px" width="110" height="18" viewBox="650 376 110 18">
<path d="M655.8 382.2 h10.8" stroke="#4a6db8" stroke-width="1.3"/>
<path d="M655.8 385.2 h10.8" stroke="#4a6db8" stroke-width="1.3"/>
<path d="M655.8 388.2 h5.5" stroke="#1f2a50" stroke-width="1.3"/>
<path d="M682 383.4 L683.6 385 L680.4 385 Z M682 388 L683.6 386.4 L680.4 386.4 Z" fill="#444"/>
<path d="M700 381.8 L696.5 385.4 L700 389" fill="none" stroke="#999" stroke-width="0.9"/>
<path d="M721.2 383.4 L722.8 385 L719.6 385 Z M721.2 388 L722.8 386.4 L719.6 386.4 Z" fill="#444"/>
<path d="M728.6 381.8 L732.1 385.4 L728.6 389" fill="none" stroke="#999" stroke-width="0.9"/>
</svg>
<div class="c" style="left:669px;top:379px;width:10px;height:13px;font-size:6px;color:#444"><span>20</span></div>
<div class="c" style="left:704px;top:379px;width:8px;height:13px;font-size:6px;color:#444"><span>1</span></div>
<div class="c" style="left:738px;top:379px;width:24px;height:13px;font-size:6.1px;color:#444;justify-content:flex-start"><span>1-1 (1)</span></div>
<div style="left:49px;top:395px;width:719px;height:5px;background:#e9e9ee"></div>
</body></html>
